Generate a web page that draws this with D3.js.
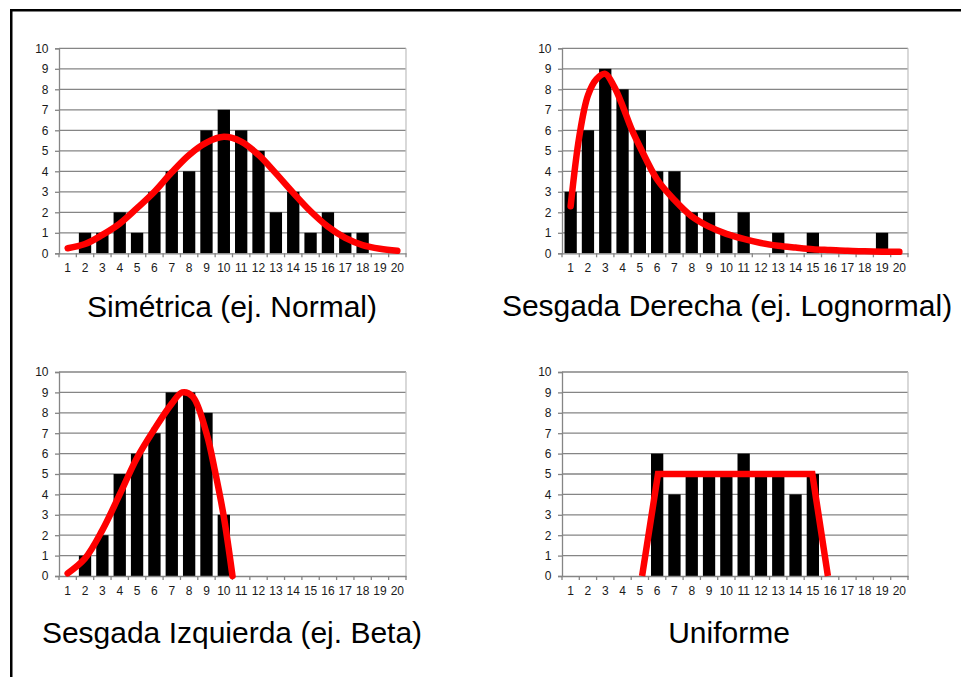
<!DOCTYPE html>
<html>
<head>
<meta charset="utf-8">
<script src="https://cdn.jsdelivr.net/npm/d3@7"></script>
<style>
  html, body { margin: 0; padding: 0; background: #fff; }
  svg { display: block; }
  text { font-family: "Liberation Sans", Arial, sans-serif; }
</style>
</head>
<body>
<svg id="chart" width="961" height="677"></svg>
<script>
// ---------- DATA ----------
const categories = [1, 2, 3, 4, 5, 6, 7, 8, 9, 10, 11, 12, 13, 14, 15, 16, 17, 18, 19, 20];
const yTicks = [0, 1, 2, 3, 4, 5, 6, 7, 8, 9, 10];

const titles = ["Simétrica (ej. Normal)", "Sesgada Derecha (ej. Lognormal)", "Sesgada Izquierda (ej. Beta)", "Uniforme"];

const normalCounts    = [0, 1, 1, 2, 1, 3, 4, 4, 6, 7, 6, 5, 2, 3, 1, 2, 1, 1, 0, 0];
const lognormalCounts = [3, 6, 9, 8, 6, 4, 4, 2, 2, 1, 2, 0, 1, 0, 1, 0, 0, 0, 1, 0];
const betaCounts      = [0, 1, 2, 5, 6, 7, 9, 9, 8, 3, 0, 0, 0, 0, 0, 0, 0, 0, 0, 0];
const uniformCounts   = [0, 0, 0, 0, 0, 6, 4, 5, 5, 5, 6, 5, 5, 4, 5, 0, 0, 0, 0, 0];

// fitted curves: [category position, value]
const normalCurve = [[1, 0.25], [2, 0.45], [3, 0.9], [4, 1.45], [5, 2.2], [6, 3.0], [7, 3.95], [8, 4.8], [9, 5.4], [10, 5.68],
  [11, 5.45], [12, 4.8], [13, 3.9], [14, 2.95], [15, 2.05], [16, 1.3], [17, 0.75], [18, 0.4], [19, 0.22], [20, 0.12]];
const lognormalCurve = [[1, 2.3], [1.5, 5.7], [2, 7.7], [2.5, 8.5], [3, 8.75], [3.5, 8.15], [4, 7.2], [4.5, 6.1], [5, 5.2],
  [6, 3.6], [7, 2.6], [8, 1.8], [9, 1.3], [10, 0.95], [11, 0.7], [12, 0.5], [13, 0.37], [14, 0.28], [15, 0.2], [16, 0.16],
  [17, 0.12], [18, 0.1], [19, 0.08], [20, 0.07]];
const betaCurve = [[1, 0.13], [2, 0.86], [3, 2.25], [4, 4.0], [5, 5.8], [6, 7.2], [7, 8.45], [7.6, 9.0],
  [8.2, 8.8], [9, 7.0], [9.5, 5.1], [10, 2.9], [10.5, 0]];
const uniformCurve = [[5.13, 0], [6.05, 5], [14.97, 5], [15.87, 0]];

// ---------- LAYOUT ----------
const panels = [
  { counts: normalCounts,    curve: normalCurve,    smooth: true,  title: titles[0], x0: 59,  x1: 406, yTop: 48.3, yBot: 253.3, tx: 232, ty: 317 },
  { counts: lognormalCounts, curve: lognormalCurve, smooth: true,  title: titles[1], x0: 562, x1: 908, yTop: 48.3, yBot: 253.3, tx: 727, ty: 316 },
  { counts: betaCounts,      curve: betaCurve,      smooth: true,  title: titles[2], x0: 59,  x1: 406, yTop: 372,  yBot: 576,   tx: 232, ty: 643 },
  { counts: uniformCounts,   curve: uniformCurve,   smooth: false, title: titles[3], x0: 562, x1: 908, yTop: 372,  yBot: 576,   tx: 729, ty: 643 }
];

const svg = d3.select("#chart");

// outer frame
svg.append("rect")
  .attr("x", 11.25).attr("y", 10.25)
  .attr("width", 1000).attr("height", 1000)
  .attr("fill", "none").attr("stroke", "#000").attr("stroke-width", 2.5);

const pad = 0.29;

panels.forEach(p => {
  const g = svg.append("g");
  const xBand = d3.scaleBand().domain(categories).range([p.x0, p.x1]).paddingInner(pad).paddingOuter(pad / 2);
  const xLin = d3.scaleLinear().domain([0.5, categories.length + 0.5]).range([p.x0, p.x1]);
  const y = d3.scaleLinear().domain([0, 10]).range([p.yBot, p.yTop]);

  // gridlines
  g.append("g").selectAll("line").data(yTicks.filter(t => t > 0)).join("line")
    .attr("x1", p.x0).attr("x2", p.x1)
    .attr("y1", d => y(d)).attr("y2", d => y(d))
    .attr("stroke", "#858585").attr("stroke-width", 1.3);

  // right border of plot area
  g.append("line")
    .attr("x1", p.x1).attr("x2", p.x1).attr("y1", y(10)).attr("y2", y(0))
    .attr("stroke", "#c4c4c4").attr("stroke-width", 1.3);

  // bars
  g.append("g").selectAll("rect").data(categories.map((c, i) => ({ c, v: p.counts[i] })).filter(d => d.v > 0)).join("rect")
    .attr("x", d => xBand(d.c))
    .attr("width", xBand.bandwidth())
    .attr("y", d => y(d.v))
    .attr("height", d => y(0) - y(d.v))
    .attr("fill", "#000");

  // y axis
  const yAxis = g.append("g").attr("transform", `translate(${p.x0},0)`)
    .call(d3.axisLeft(y).tickValues(yTicks).tickSize(4).tickPadding(6.5).tickFormat(d3.format("d")));
  yAxis.select(".domain").attr("stroke", "#858585").attr("stroke-width", 1.3);
  yAxis.selectAll(".tick line").attr("stroke", "#858585").attr("stroke-width", 1.3);
  yAxis.selectAll("text").attr("font-size", 12).attr("fill", "#1a1a1a")
    .style("font-family", "'Liberation Sans', Arial, sans-serif");

  // x axis
  const xAxis = g.append("g").attr("transform", `translate(0,${p.yBot})`)
    .call(d3.axisBottom(xBand).tickSize(0).tickPadding(10).tickFormat(d3.format("d")));
  xAxis.select(".domain").attr("stroke", "#858585").attr("stroke-width", 1.3);
  xAxis.selectAll("text").attr("font-size", 12).attr("fill", "#1a1a1a")
    .style("font-family", "'Liberation Sans', Arial, sans-serif");
  // boundary tick marks
  const bounds = [0].concat(categories);
  xAxis.selectAll("line.bt").data(bounds).join("line").attr("class", "bt")
    .attr("x1", d => xLin(d + 0.5)).attr("x2", d => xLin(d + 0.5))
    .attr("y1", 0).attr("y2", 4)
    .attr("stroke", "#858585").attr("stroke-width", 1.3);

  // curve
  const line = d3.line().x(d => xLin(d[0])).y(d => y(d[1]))
    .curve(p.smooth ? d3.curveCatmullRom.alpha(0.5) : d3.curveLinear);
  g.append("path").datum(p.curve)
    .attr("d", line)
    .attr("fill", "none").attr("stroke", "#ff0000")
    .attr("stroke-width", 6.5)
    .attr("stroke-linecap", p.smooth ? "round" : "butt")
    .attr("stroke-linejoin", p.smooth ? "round" : "miter");

  // title
  svg.append("text")
    .attr("x", p.tx).attr("y", p.ty)
    .attr("text-anchor", "middle")
    .attr("font-size", 30).attr("fill", "#000")
    .text(p.title);
});
</script>
</body>
</html>
